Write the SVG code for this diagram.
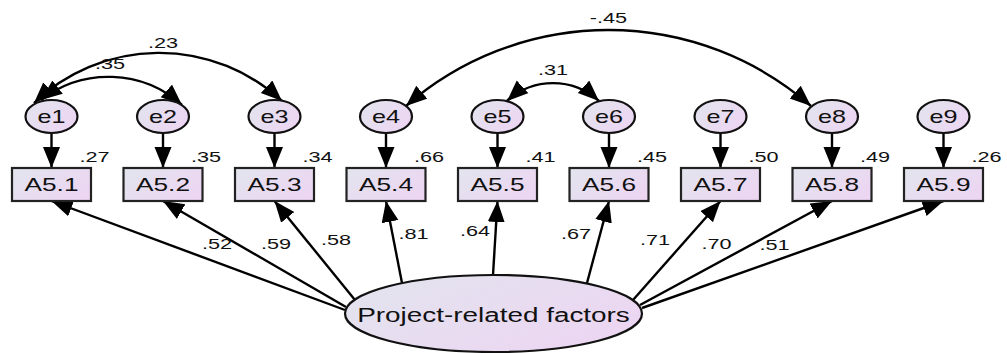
<svg xmlns="http://www.w3.org/2000/svg" width="1007" height="353" viewBox="0 0 1007 353">
<defs>
<linearGradient id="g" x1="0" y1="0" x2="1" y2="0.6">
<stop offset="0" stop-color="#e2e5ee"/>
<stop offset="1" stop-color="#ecd6f2"/>
</linearGradient>
<marker id="ah" markerUnits="userSpaceOnUse" markerWidth="22" markerHeight="18" refX="21" refY="8.5" orient="auto-start-reverse" viewBox="0 0 22 18">
<path d="M0,0 L21,8.5 L0,17 z" fill="#000"/>
</marker>
</defs>
<style>
.box{fill:url(#g);stroke:#222;stroke-width:2.2}
.el{fill:url(#g);stroke:#111;stroke-width:2.2}
.ln{fill:none;stroke:#000;stroke-width:2.4;marker-end:url(#ah)}
.cv{fill:none;stroke:#000;stroke-width:2.4;marker-start:url(#ah);marker-end:url(#ah)}
text{font-family:"Liberation Sans",Arial,sans-serif;fill:#111}
.nl{font-size:17.5px;text-anchor:middle}
.el-t{font-size:18px;text-anchor:middle}
.num{font-size:15.5px}
.mid{text-anchor:middle}
.big{font-size:19.5px;text-anchor:middle}
</style>
<g id="connectors">
<path class="ln" d="M345,310 L51.5,201"/>
<path class="ln" d="M346,307 L163,201"/>
<path class="ln" d="M355,300 L274.5,201"/>
<path class="ln" d="M402,283 L386,201"/>
<path class="ln" d="M493,275 L497.5,201"/>
<path class="ln" d="M587,283 L609,201"/>
<path class="ln" d="M633,300 L720.5,201"/>
<path class="ln" d="M640,305 L832,201"/>
<path class="ln" d="M642,308 L943.5,201"/>
<path class="ln" d="M51.5,133 L51.5,168"/>
<path class="ln" d="M163,133 L163,168"/>
<path class="ln" d="M274.5,133 L274.5,168"/>
<path class="ln" d="M386,133 L386,168"/>
<path class="ln" d="M497.5,133 L497.5,168"/>
<path class="ln" d="M609,133 L609,168"/>
<path class="ln" d="M720.5,133 L720.5,168"/>
<path class="ln" d="M832,133 L832,168"/>
<path class="ln" d="M943.5,133 L943.5,168"/>
<path class="cv" d="M41,100 A110,110 0 0 1 182,105"/>
<path class="cv" d="M34,103 A181,181 0 0 1 282,101"/>
<path class="cv" d="M507,101 A68,68 0 0 1 599,101"/>
<path class="cv" d="M406,106 A308,308 0 0 1 811,106"/>
<text class="num mid" transform="translate(163,48) scale(1.4,1)">.23</text>
<text class="num mid" transform="translate(110,69) scale(1.4,1)">.35</text>
<text class="num mid" transform="translate(553,75) scale(1.4,1)">.31</text>
<text class="num mid" transform="translate(608.5,23) scale(1.4,1)">-.45</text>
<text class="num mid" transform="translate(217,249) scale(1.4,1)">.52</text>
<text class="num mid" transform="translate(276,249) scale(1.4,1)">.59</text>
<text class="num mid" transform="translate(336,245) scale(1.4,1)">.58</text>
<text class="num mid" transform="translate(413.5,239) scale(1.4,1)">.81</text>
<text class="num mid" transform="translate(475,236) scale(1.4,1)">.64</text>
<text class="num mid" transform="translate(576,239) scale(1.4,1)">.67</text>
<text class="num mid" transform="translate(655,245) scale(1.4,1)">.71</text>
<text class="num mid" transform="translate(716.5,249) scale(1.4,1)">.70</text>
<text class="num mid" transform="translate(774.5,250) scale(1.4,1)">.51</text>
</g>
<g id="F">
<ellipse class="el" cx="493.5" cy="313.5" rx="148.5" ry="38.5"/>
<text class="big" transform="translate(493.5,322) scale(1.43,1)">Project-related factors</text>
</g>
<g id="e1"><ellipse class="el" cx="51.5" cy="116.5" rx="26" ry="16.5"/><text class="el-t" transform="translate(51.5,123) scale(1.4,1)">e1</text></g>
<g id="e2"><ellipse class="el" cx="163" cy="116.5" rx="26" ry="16.5"/><text class="el-t" transform="translate(163,123) scale(1.4,1)">e2</text></g>
<g id="e3"><ellipse class="el" cx="274.5" cy="116.5" rx="26" ry="16.5"/><text class="el-t" transform="translate(274.5,123) scale(1.4,1)">e3</text></g>
<g id="e4"><ellipse class="el" cx="386" cy="116.5" rx="26" ry="16.5"/><text class="el-t" transform="translate(386,123) scale(1.4,1)">e4</text></g>
<g id="e5"><ellipse class="el" cx="497.5" cy="116.5" rx="26" ry="16.5"/><text class="el-t" transform="translate(497.5,123) scale(1.4,1)">e5</text></g>
<g id="e6"><ellipse class="el" cx="609" cy="116.5" rx="26" ry="16.5"/><text class="el-t" transform="translate(609,123) scale(1.4,1)">e6</text></g>
<g id="e7"><ellipse class="el" cx="720.5" cy="116.5" rx="26" ry="16.5"/><text class="el-t" transform="translate(720.5,123) scale(1.4,1)">e7</text></g>
<g id="e8"><ellipse class="el" cx="832" cy="116.5" rx="26" ry="16.5"/><text class="el-t" transform="translate(832,123) scale(1.4,1)">e8</text></g>
<g id="e9"><ellipse class="el" cx="943.5" cy="116.5" rx="26" ry="16.5"/><text class="el-t" transform="translate(943.5,123) scale(1.4,1)">e9</text></g>
<g id="A5.1"><rect class="box" x="12" y="168" width="79" height="33"/><text class="nl" transform="translate(51.5,191) scale(1.5,1)">A5.1</text><text class="num" transform="translate(79.5,162) scale(1.4,1)">.27</text></g>
<g id="A5.2"><rect class="box" x="123.5" y="168" width="79" height="33"/><text class="nl" transform="translate(163,191) scale(1.5,1)">A5.2</text><text class="num" transform="translate(191,162) scale(1.4,1)">.35</text></g>
<g id="A5.3"><rect class="box" x="235" y="168" width="79" height="33"/><text class="nl" transform="translate(274.5,191) scale(1.5,1)">A5.3</text><text class="num" transform="translate(302.5,162) scale(1.4,1)">.34</text></g>
<g id="A5.4"><rect class="box" x="346.5" y="168" width="79" height="33"/><text class="nl" transform="translate(386,191) scale(1.5,1)">A5.4</text><text class="num" transform="translate(414,162) scale(1.4,1)">.66</text></g>
<g id="A5.5"><rect class="box" x="458" y="168" width="79" height="33"/><text class="nl" transform="translate(497.5,191) scale(1.5,1)">A5.5</text><text class="num" transform="translate(525.5,162) scale(1.4,1)">.41</text></g>
<g id="A5.6"><rect class="box" x="569.5" y="168" width="79" height="33"/><text class="nl" transform="translate(609,191) scale(1.5,1)">A5.6</text><text class="num" transform="translate(637,162) scale(1.4,1)">.45</text></g>
<g id="A5.7"><rect class="box" x="681" y="168" width="79" height="33"/><text class="nl" transform="translate(720.5,191) scale(1.5,1)">A5.7</text><text class="num" transform="translate(748.5,162) scale(1.4,1)">.50</text></g>
<g id="A5.8"><rect class="box" x="792.5" y="168" width="79" height="33"/><text class="nl" transform="translate(832,191) scale(1.5,1)">A5.8</text><text class="num" transform="translate(860,162) scale(1.4,1)">.49</text></g>
<g id="A5.9"><rect class="box" x="904" y="168" width="79" height="33"/><text class="nl" transform="translate(943.5,191) scale(1.5,1)">A5.9</text><text class="num" transform="translate(971.5,162) scale(1.4,1)">.26</text></g>
</svg>
